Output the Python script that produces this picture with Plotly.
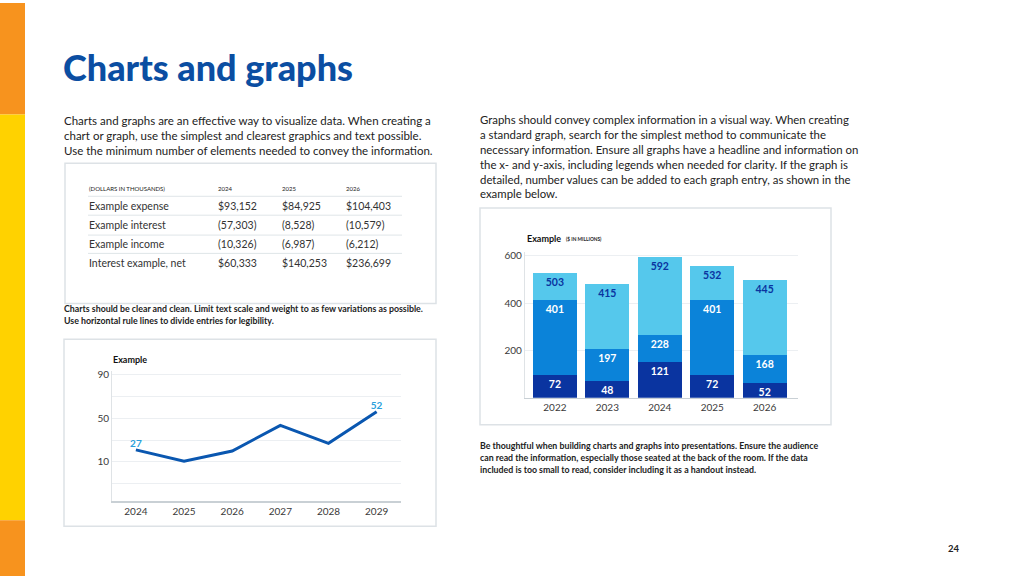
import plotly.graph_objects as go

W, H = 1024, 576

# ---------------- data ----------------
table_header = "(DOLLARS IN THOUSANDS)"
table_years = ["2024", "2025", "2026"]
table_rows = ["Example expense", "Example interest", "Example income", "Interest example, net"]
table_values = [
    ["$93,152", "$84,925", "$104,403"],
    ["(57,303)", "(8,528)", "(10,579)"],
    ["(10,326)", "(6,987)", "(6,212)"],
    ["$60,333", "$140,253", "$236,699"],
]

line_years = [2024, 2025, 2026, 2027, 2028, 2029]
line_values = [21, 10.5, 20, 43.5, 27, 56]
line_labels = ["27", "", "", "", "", "52"]
line_tickvals = [-10, 10, 30, 50, 70, 90]
line_ticktext = ["", "10", "", "50", "", "90"]

bar_years = ["2022", "2023", "2024", "2025", "2026"]
bar_dark = [96, 69, 150, 96, 64]
bar_mid = [318, 135, 117, 318, 116]
bar_light = [114, 277, 330, 142, 317]
bar_dark_labels = ["72", "48", "121", "72", "52"]
bar_mid_labels = ["401", "197", "228", "401", "168"]
bar_light_labels = ["503", "415", "592", "532", "445"]

left_para = [
    "Charts and graphs are an effective way to visualize data. When creating a",
    "chart or graph, use the simplest and clearest graphics and text possible.",
    "Use the minimum number of elements needed to convey the information.",
]
right_para = [
    "Graphs should convey complex information in a visual way. When creating",
    "a standard graph, search for the simplest method to communicate the",
    "necessary information. Ensure all graphs have a headline and information on",
    "the x- and y-axis, including legends when needed for clarity. If the graph is",
    "detailed, number values can be added to each graph entry, as shown in the",
    "example below.",
]
left_caption = [
    "Charts should be clear and clean. Limit text scale and weight to as few variations as possible.",
    "Use horizontal rule lines to divide entries for legibility.",
]
right_caption = [
    "Be thoughtful when building charts and graphs into presentations. Ensure the audience",
    "can read the information, especially those seated at the back of the room. If the data",
    "included is too small to read, consider including it as a handout instead.",
]

# ---------------- style ----------------
FONT = "Lato"
BLUE_TITLE = "#0b4ea2"
TEXT = "#222222"
DARK = "#0a34a0"
MID = "#0b83d9"
LIGHT = "#55c8ec"
BORDER = "#dde2e6"
GRID = "#eceff2"


def px(x):
    return x / W


def py(y):
    return 1 - y / H


annotations = []
shapes = []


def text(x, y, s, size, color=TEXT, bold=False, anchor="left", family=FONT, weight=None):
    w = weight if weight is not None else (700 if bold else 400)
    if anchor == "left":
        x -= 2
    annotations.append(dict(
        x=px(x), y=py(y), xref="paper", yref="paper", text=s, showarrow=False,
        xanchor=anchor, yanchor="middle", align=anchor,
        font=dict(family=family, size=size, color=color, weight=w),
    ))


def rect(x0, y0, x1, y1, fill=None, line=None, lw=0):
    shapes.append(dict(
        type="rect", xref="paper", yref="paper", x0=px(x0), y0=py(y1), x1=px(x1), y1=py(y0),
        fillcolor=fill if fill else "rgba(0,0,0,0)",
        line=dict(color=line if line else "rgba(0,0,0,0)", width=lw), layer="below",
    ))


def hline(x0, x1, y, color, lw=1):
    shapes.append(dict(type="line", xref="paper", yref="paper", x0=px(x0), x1=px(x1),
                       y0=py(y), y1=py(y), line=dict(color=color, width=lw)))


# side stripes
rect(0, 0, 25, 112, fill="#f7931e")
rect(0, 112, 25, 520, fill="#ffd200")
rect(0, 520, 25, 576, fill="#f7931e")

# title
text(63, 64, "Charts and graphs", 36, color=BLUE_TITLE, weight=900)

# paragraphs
for i, s in enumerate(left_para):
    text(64, 118 + 15 * i, s, 11.5)
for i, s in enumerate(right_para):
    text(480, 117 + 15 * i, s, 11.4)
for i, s in enumerate(left_caption):
    text(64, 307 + 12 * i, s, 8.8, bold=True)
for i, s in enumerate(right_caption):
    text(480, 445 + 12 * i, s, 8.8, bold=True)

# page number
text(954, 548, "24", 9.5, bold=True, anchor="center")

# table box
rect(65, 161, 436, 302, line=BORDER, lw=1.5)
col_x = [218, 282, 346]
text(89, 186, table_header, 6)
for cx, yr in zip(col_x, table_years):
    text(cx, 186, yr, 6)
row_y = [204, 223.3, 242.7, 261.7]
for ry, lab, vals in zip(row_y, table_rows, table_values):
    text(89, ry, lab, 10.5, color="#333333")
    for cx, v in zip(col_x, vals):
        text(cx, ry, v, 10.5, color="#333333")
for ly in [194.3, 213.3, 233.3, 251.7]:
    hline(88, 402, ly, "#dfe5e8", 1)

# chart boxes
rect(64, 338, 436, 526, line=BORDER, lw=1.5)
rect(480, 206, 831, 424, line=BORDER, lw=1.5)

# chart titles
text(113, 358, "Example", 9, bold=True, color="#111111")
text(527, 237, "Example", 9, bold=True, color="#111111")
text(566, 237.5, "($ IN MILLIONS)", 4.8, bold=True, color="#222222")

fig = go.Figure()

# line chart
fig.add_trace(go.Scatter(
    x=line_years, y=line_values, mode="lines+text", text=line_labels,
    textposition="top center",
    textfont=dict(family=FONT, size=10, color="#2a9fdc", weight=700),
    line=dict(color="#0a57b0", width=3), xaxis="x", yaxis="y", showlegend=False,
    hoverinfo="skip",
))

# stacked bar chart
for vals, labs, col, tcol in [
    (bar_dark, bar_dark_labels, DARK, "white"),
    (bar_mid, bar_mid_labels, MID, "white"),
    (bar_light, bar_light_labels, LIGHT, DARK),
]:
    fig.add_trace(go.Bar(
        x=bar_years, y=vals, text=labs, textposition="inside", insidetextanchor="end",
        textangle=0, constraintext="none",
        textfont=dict(family=FONT, size=10.5, color=tcol, weight=700),
        marker=dict(color=col, line=dict(width=0)), xaxis="x2", yaxis="y2",
        showlegend=False, hoverinfo="skip",
    ))

tickfont = dict(family=FONT, size=10, color="#3a3a3a")

fig.update_layout(
    width=W, height=H, autosize=False,
    margin=dict(l=0, r=0, t=0, b=0),
    paper_bgcolor="white", plot_bgcolor="white",
    barmode="stack", bargap=0.16,
    annotations=annotations, shapes=shapes,
    xaxis=dict(domain=[px(112.3), px(400.7)], range=[2023.51, 2029.5],
               tickvals=line_years, ticktext=[str(v) for v in line_years],
               showline=True, linecolor="#c9d0d5", linewidth=1.2, showgrid=False,
               zeroline=False, ticks="", tickfont=tickfont, fixedrange=True),
    yaxis=dict(domain=[py(501), py(370)], range=[-26.4, 93.5],
               tickvals=line_tickvals, ticktext=line_ticktext,
               showline=True, linecolor="#dfe3e6", linewidth=1.2, showgrid=True,
               gridcolor=GRID, gridwidth=1, zeroline=False, ticks="", tickfont=tickfont,
               fixedrange=True),
    xaxis2=dict(domain=[px(525), px(797.7)], range=[-0.57, 4.63], type="category",
                showline=True, linecolor="#c9d0d5", linewidth=1.2, showgrid=False,
                zeroline=False, ticks="", tickfont=tickfont, fixedrange=True,
                anchor="y2"),
    yaxis2=dict(domain=[py(396.7), py(250)], range=[0, 618],
                tickvals=[200, 400, 600], showline=True, linecolor="#dfe3e6",
                linewidth=1.2, showgrid=True, gridcolor=GRID, gridwidth=1,
                zeroline=False, ticks="", tickfont=tickfont, fixedrange=True,
                anchor="x2"),
)

fig.write_html(
    "out.html",
    config={"displayModeBar": False, "staticPlot": True},
    post_script="document.documentElement.style.margin='0';document.body.style.margin='0';"
                "document.body.style.padding='0';document.body.style.overflow='hidden';",
)
